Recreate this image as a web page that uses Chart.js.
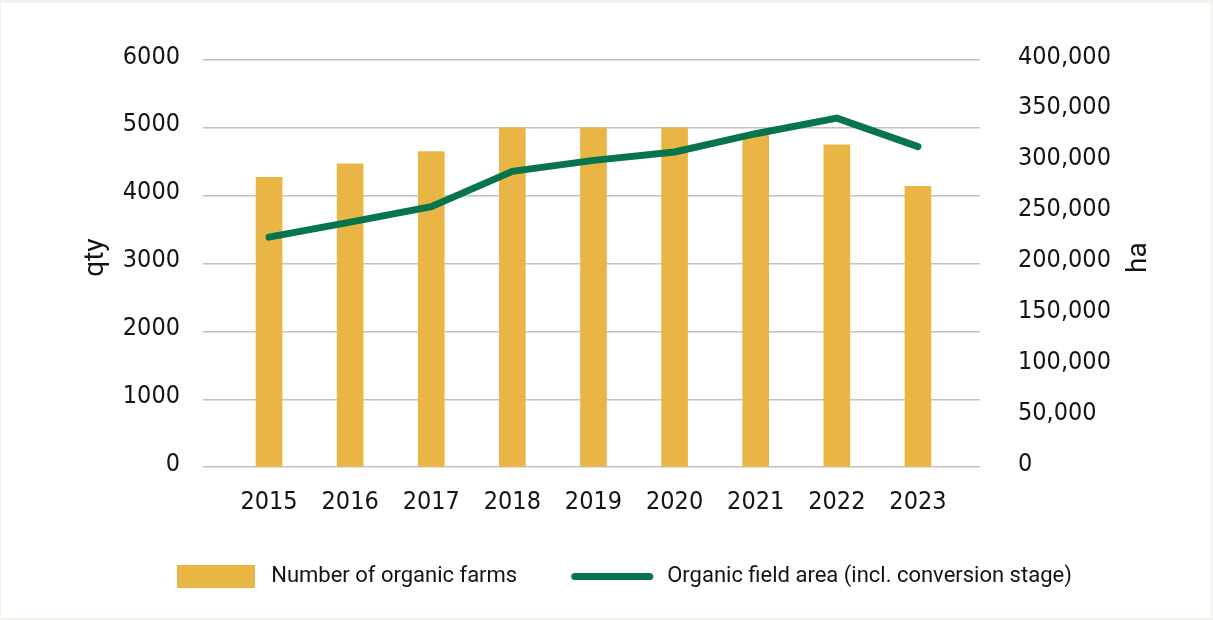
<!DOCTYPE html>
<html><head><meta charset="utf-8">
<script src="https://cdn.jsdelivr.net/npm/chart.js@4"></script>
<style>
html,body{margin:0;padding:0;background:#f4f2ec;}
#wrap{position:absolute;left:1px;top:3px;width:1210px;height:615px;background:#fff;}
canvas{display:block;}
</style></head><body>
<div id="wrap"><canvas id="c" width="1210" height="615"></canvas></div>
<script>
const categories = ['2015','2016','2017','2018','2019','2020','2021','2022','2023'];
const farms = [4270, 4470, 4650, 5000, 5000, 5000, 4900, 4750, 4140];
const fieldArea = [226000, 240700, 256000, 290600, 301400, 309700, 327600, 342900, 314900];
const leftTicks = [0, 1000, 2000, 3000, 4000, 5000, 6000];
const rightTicks = [0, 50000, 100000, 150000, 200000, 250000, 300000, 350000, 400000];
const seriesNames = ['Number of organic farms', 'Organic field area (incl. conversion stage)'];
const axisTitles = ['qty', 'ha'];

const BAR = '#E9B646';
const LINE = '#07754C';
const TXT = '#141414';
const NARROW = "'DejaVu Sans Condensed', 'DejaVu Sans', sans-serif";
const tickFont = {family: NARROW, size: 25};

// legend symbols
function swatch(w, h, draw) {
  const c = document.createElement('canvas'); c.width = w; c.height = h;
  draw(c.getContext('2d')); return c;
}
const barSymbol = swatch(78, 23, g => { g.fillStyle = BAR; g.fillRect(0, 0, 78, 23); });
const lineSymbol = swatch(84, 9, g => {
  g.strokeStyle = LINE; g.lineWidth = 7; g.lineCap = 'round';
  g.beginPath(); g.moveTo(4.5, 4.5); g.lineTo(79.5, 4.5); g.stroke();
});

const titlePlugin = {
  id: 'axisTitles',
  afterDraw(chart) {
    const ctx = chart.ctx, a = chart.chartArea;
    const cy = (a.top + a.bottom) / 2 - 6;
    ctx.save();
    ctx.font = '28px Roboto';
    ctx.fillStyle = TXT;
    ctx.textAlign = 'center';
    ctx.textBaseline = 'middle';
    [[axisTitles[0], a.left - 107], [axisTitles[1], a.right + 159]].forEach(([t, x]) => {
      ctx.save(); ctx.translate(x, cy); ctx.rotate(-Math.PI / 2); ctx.fillText(t, 0, 0); ctx.restore();
    });
    ctx.restore();
  }
};

new Chart(document.getElementById('c'), {
  data: {
    datasets: [
      {type: 'bar', label: seriesNames[0], data: farms.map((v, i) => ({x: i, y: v})), yAxisID: 'y',
       backgroundColor: BAR, barThickness: 26, order: 2},
      {type: 'line', label: seriesNames[1], data: fieldArea.map((v, i) => ({x: i, y: v})), yAxisID: 'y1',
       borderColor: LINE, backgroundColor: LINE, borderWidth: 7, pointRadius: 0, borderCapStyle: 'round',
       tension: 0, order: 1}
    ]
  },
  options: {
    responsive: false,
    animation: false,
    devicePixelRatio: 1,
    layout: {padding: {top: 57, left: 32, right: 0, bottom: 20.5}},
    plugins: {
      tooltip: {enabled: false},
      legend: {
        position: 'bottom',
        labels: {
          usePointStyle: true, pointStyleWidth: 88, boxHeight: 22, padding: 51,
          color: TXT, font: {family: 'Roboto', size: 22},
          generateLabels: () => [
            {text: seriesNames[0], fillStyle: BAR, strokeStyle: BAR, lineWidth: 0, pointStyle: barSymbol, datasetIndex: 0, hidden: false, fontColor: TXT},
            {text: seriesNames[1], fillStyle: LINE, strokeStyle: LINE, lineWidth: 0, pointStyle: lineSymbol, datasetIndex: 1, hidden: false, fontColor: TXT}
          ]
        }
      }
    },
    scales: {
      x: {
        type: 'linear', min: -0.814, max: 8.765, offset: false,
        grid: {display: false, drawTicks: false}, border: {display: false},
        afterBuildTicks: s => { s.ticks = categories.map((c, i) => ({value: i})); },
        afterFit: s => { s.height = 47.3; },
        ticks: {autoSkip: false, maxRotation: 0, padding: 20, color: TXT, font: tickFont,
                callback: v => categories[v] ?? ''}
      },
      y: {
        position: 'left', min: 0, max: 6000,
        afterBuildTicks: s => { s.ticks = leftTicks.map(v => ({value: v})); },
        afterFit: s => { s.width = 170; },
        grid: {color: '#c2c2c2', lineWidth: 1.5, drawTicks: false},
        border: {display: false},
        ticks: {padding: 23, labelOffset: -3, color: TXT, font: tickFont, callback: v => String(v)}
      },
      y1: {
        position: 'right', min: 0, max: 400000,
        afterBuildTicks: s => { s.ticks = rightTicks.map(v => ({value: v})); },
        afterFit: s => { s.width = 231; },
        grid: {display: false, drawTicks: false},
        border: {display: false},
        ticks: {padding: 38, labelOffset: -3, color: TXT, font: tickFont,
                callback: v => v.toLocaleString('en-US')}
      }
    }
  },
  plugins: [titlePlugin]
});
</script>
</body></html>
